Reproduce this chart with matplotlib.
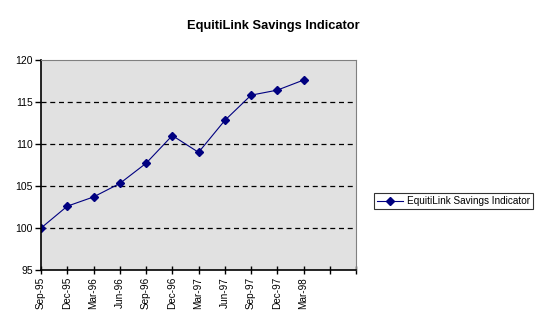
import matplotlib
matplotlib.use("Agg")
import matplotlib.pyplot as plt

plt.rcParams['font.family'] = ['Liberation Sans', 'DejaVu Sans']

categories = ["Sep-95", "Dec-95", "Mar-96", "Jun-96", "Sep-96", "Dec-96",
              "Mar-97", "Jun-97", "Sep-97", "Dec-97", "Mar-98"]
values = [100.0, 102.6, 103.7, 105.3, 107.7, 111.0,
          109.0, 112.8, 115.8, 116.4, 117.6]
series_name = "EquitiLink Savings Indicator"
n_slots = 12  # two empty quarter slots after the last label

fig = plt.figure(figsize=(5.47, 3.27), dpi=100)
ax = fig.add_axes([0.075, 0.174, 0.576, 0.643])
ax.set_facecolor("#e1e1e1")

x = list(range(len(categories)))
line, = ax.plot(x, values, color="#000080", lw=0.8, marker="D", ms=4.0,
                mfc="#000080", mec="#000080", label=series_name)

ax.set_xlim(0, n_slots)
ax.set_ylim(95, 120)
ax.set_yticks([95, 100, 105, 110, 115, 120])
ax.set_xticks(range(n_slots + 1))
ax.set_xticklabels(categories + [""] * (n_slots + 1 - len(categories)),
                   rotation=90, fontsize=7.2)
ax.tick_params(axis="y", direction="out", length=4, width=1, labelsize=7.5, pad=2)
ax.tick_params(axis="x", direction="inout", length=6, width=1, pad=2)

for yv in [100, 105, 110, 115]:
    ax.axhline(yv, color="black", lw=0.9, ls=(0, (4, 3)), zorder=1)

ax.spines["left"].set_color("black")
ax.spines["bottom"].set_color("black")
ax.spines["left"].set_linewidth(1.2)
ax.spines["bottom"].set_linewidth(1.2)
ax.spines["top"].set_color("#808080")
ax.spines["right"].set_color("#808080")

fig.suptitle(series_name, x=0.5, y=0.94, fontsize=9.3, fontweight="bold")

leg = fig.legend(handles=[line], loc="center left",
                 bbox_to_anchor=(0.674, 0.385), fontsize=7.2, frameon=True,
                 fancybox=False, edgecolor="black", handlelength=2.6,
                 borderpad=0.3, handletextpad=0.4)
leg.get_frame().set_linewidth(0.8)

fig.savefig("out.png", dpi=100)
